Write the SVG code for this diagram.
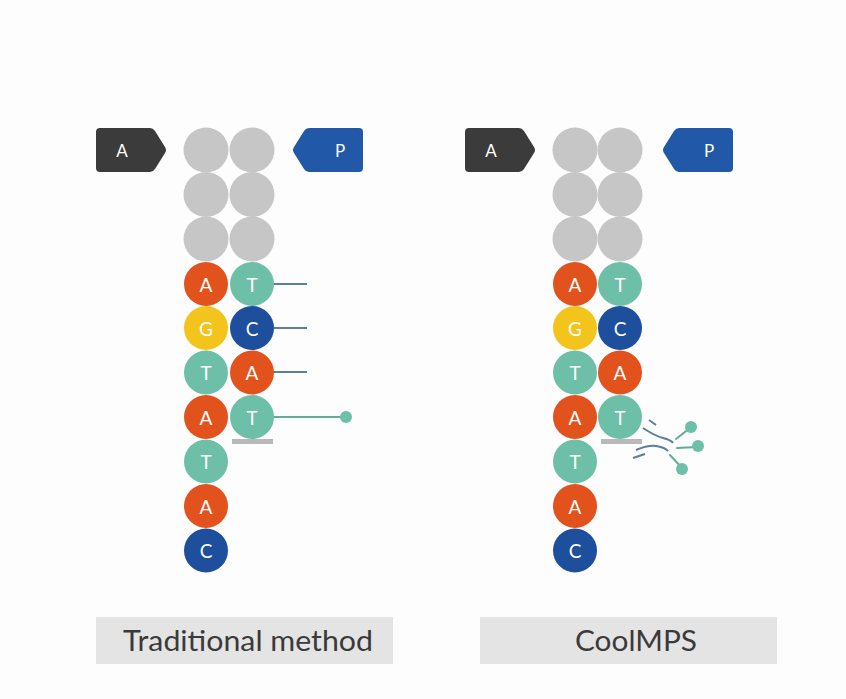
<svg xmlns="http://www.w3.org/2000/svg" width="846" height="699" viewBox="0 0 846 699">
<style>
.g{fill:#c6c6c6}
.o{fill:#e2521d}
.y{fill:#f2c41c}
.t{fill:#6dbfa8}
.b{fill:#1d4f9c}
.bl{fill:#ffffff;font-family:Lato,"Noto Sans",sans-serif;font-size:19px;text-anchor:middle;dominant-baseline:central}
.tagA{fill:#3b3b3b}
.tagP{fill:#2158a8}
.tl{fill:#ffffff;font-family:Lato,"Noto Sans",sans-serif;font-size:17px;text-anchor:middle;dominant-baseline:central}
.lab{fill:#e4e4e4}
.lt{fill:#3a3a3a;font-family:Lato,"Noto Sans",sans-serif;font-size:28px;text-anchor:middle;dominant-baseline:central}
.ln{stroke:#5b7f99;stroke-width:2;fill:none}
.lnt{stroke:#5fae98;stroke-width:2;fill:none;stroke-linecap:round}
.dot{fill:#6dbfa8}
.bar{fill:#b9b9b9}
</style>
<rect width="846" height="699" fill="#fdfdfd"/>

<!-- ===== Traditional method ===== -->
<g id="trad-tagA"><path class="tagA" d="M100,128 H150 Q153,128 155,131 L165,147 Q167,150 165,153 L155,169 Q153,172 150,172 H100 Q96,172 96,168 V132 Q96,128 100,128 Z"/><text class="tl" x="122" y="150">A</text></g>
<g id="trad-tagP"><path class="tagP" d="M359,128 H309 Q306,128 304,131 L294,147 Q292,150 294,153 L304,169 Q306,172 309,172 H359 Q363,172 363,168 V132 Q363,128 359,128 Z"/><text class="tl" x="340" y="150">P</text></g>

<g id="trad-connectors">
<line class="ln" x1="252" y1="284" x2="307" y2="284"/>
<line class="ln" x1="252" y1="328" x2="307" y2="328"/>
<line class="ln" x1="252" y1="372" x2="307" y2="372"/>
<line class="lnt" x1="252" y1="417" x2="346" y2="417"/>
<circle class="dot" cx="346" cy="417" r="6"/>
</g>

<g id="trad-L1"><circle class="g" cx="206" cy="150" r="22.5"/></g>
<g id="trad-R1"><circle class="g" cx="252" cy="150" r="22.5"/></g>
<g id="trad-L2"><circle class="g" cx="206" cy="194.5" r="22.5"/></g>
<g id="trad-R2"><circle class="g" cx="252" cy="194.5" r="22.5"/></g>
<g id="trad-L3"><circle class="g" cx="206" cy="239" r="22.5"/></g>
<g id="trad-R3"><circle class="g" cx="252" cy="239" r="22.5"/></g>
<g id="trad-L4"><circle class="o" cx="206" cy="284" r="22"/><text class="bl" x="206" y="284">A</text></g>
<g id="trad-R4"><circle class="t" cx="252" cy="284" r="22"/><text class="bl" x="252" y="284">T</text></g>
<g id="trad-L5"><circle class="y" cx="206" cy="328" r="22"/><text class="bl" x="206" y="328">G</text></g>
<g id="trad-R5"><circle class="b" cx="252" cy="328" r="22"/><text class="bl" x="252" y="328">C</text></g>
<g id="trad-L6"><circle class="t" cx="206" cy="372.5" r="22"/><text class="bl" x="206" y="372.5">T</text></g>
<g id="trad-R6"><circle class="o" cx="252" cy="372.5" r="22"/><text class="bl" x="252" y="372.5">A</text></g>
<g id="trad-L7"><circle class="o" cx="206" cy="417" r="22"/><text class="bl" x="206" y="417">A</text></g>
<g id="trad-R7"><circle class="t" cx="252" cy="417" r="22"/><text class="bl" x="252" y="417">T</text></g>
<g id="trad-L8"><circle class="t" cx="206" cy="461.5" r="22"/><text class="bl" x="206" y="461.5">T</text></g>
<g id="trad-L9"><circle class="o" cx="206" cy="506" r="22"/><text class="bl" x="206" y="506">A</text></g>
<g id="trad-L10"><circle class="b" cx="206" cy="550.5" r="22"/><text class="bl" x="206" y="550.5">C</text></g>
<g id="trad-bar"><rect class="bar" x="232" y="439" width="41" height="5"/></g>

<g id="trad-label"><rect class="lab" x="96" y="617" width="297" height="47"/><text class="lt" x="248" y="640" textLength="250" lengthAdjust="spacingAndGlyphs">Traditional method</text></g>

<!-- ===== CoolMPS ===== -->
<g id="cool-tagA"><path class="tagA" d="M469,128 H519 Q522,128 524,131 L534,147 Q536,150 534,153 L524,169 Q522,172 519,172 H469 Q465,172 465,168 V132 Q465,128 469,128 Z"/><text class="tl" x="491" y="150">A</text></g>
<g id="cool-tagP"><path class="tagP" d="M729,128 H679 Q676,128 674,131 L664,147 Q662,150 664,153 L674,169 Q676,172 679,172 H729 Q733,172 733,168 V132 Q733,128 729,128 Z"/><text class="tl" x="709" y="150">P</text></g>

<g id="cool-fragments">
<line class="ln" x1="649" y1="420" x2="656" y2="425"/>
<path class="ln" d="M643,428 Q655,436 663,438 T673,443"/>
<line class="lnt" x1="690" y1="428" x2="676" y2="439"/>
<circle class="dot" cx="691" cy="427" r="6"/>
<line class="lnt" x1="697" y1="447" x2="677" y2="448"/>
<circle class="dot" cx="698" cy="446" r="6"/>
<path class="ln" d="M636,450 Q648,445 656,446 T668,451"/>
<line class="ln" x1="633" y1="458" x2="645" y2="454"/>
<line class="lnt" x1="670" y1="455" x2="682" y2="468"/>
<circle class="dot" cx="682" cy="469" r="6"/>
</g>

<g id="cool-L1"><circle class="g" cx="575" cy="150" r="22.5"/></g>
<g id="cool-R1"><circle class="g" cx="620" cy="150" r="22.5"/></g>
<g id="cool-L2"><circle class="g" cx="575" cy="194.5" r="22.5"/></g>
<g id="cool-R2"><circle class="g" cx="620" cy="194.5" r="22.5"/></g>
<g id="cool-L3"><circle class="g" cx="575" cy="239" r="22.5"/></g>
<g id="cool-R3"><circle class="g" cx="620" cy="239" r="22.5"/></g>
<g id="cool-L4"><circle class="o" cx="575" cy="284" r="22"/><text class="bl" x="575" y="284">A</text></g>
<g id="cool-R4"><circle class="t" cx="620" cy="284" r="22"/><text class="bl" x="620" y="284">T</text></g>
<g id="cool-L5"><circle class="y" cx="575" cy="328" r="22"/><text class="bl" x="575" y="328">G</text></g>
<g id="cool-R5"><circle class="b" cx="620" cy="328" r="22"/><text class="bl" x="620" y="328">C</text></g>
<g id="cool-L6"><circle class="t" cx="575" cy="372.5" r="22"/><text class="bl" x="575" y="372.5">T</text></g>
<g id="cool-R6"><circle class="o" cx="620" cy="372.5" r="22"/><text class="bl" x="620" y="372.5">A</text></g>
<g id="cool-L7"><circle class="o" cx="575" cy="417" r="22"/><text class="bl" x="575" y="417">A</text></g>
<g id="cool-R7"><circle class="t" cx="620" cy="417" r="22"/><text class="bl" x="620" y="417">T</text></g>
<g id="cool-L8"><circle class="t" cx="575" cy="461.5" r="22"/><text class="bl" x="575" y="461.5">T</text></g>
<g id="cool-L9"><circle class="o" cx="575" cy="506" r="22"/><text class="bl" x="575" y="506">A</text></g>
<g id="cool-L10"><circle class="b" cx="575" cy="550.5" r="22"/><text class="bl" x="575" y="550.5">C</text></g>
<g id="cool-bar"><rect class="bar" x="601" y="439" width="41" height="5"/></g>

<g id="cool-label"><rect class="lab" x="480" y="617" width="297" height="47"/><text class="lt" x="636" y="640" textLength="122" lengthAdjust="spacingAndGlyphs">CoolMPS</text></g>
</svg>
